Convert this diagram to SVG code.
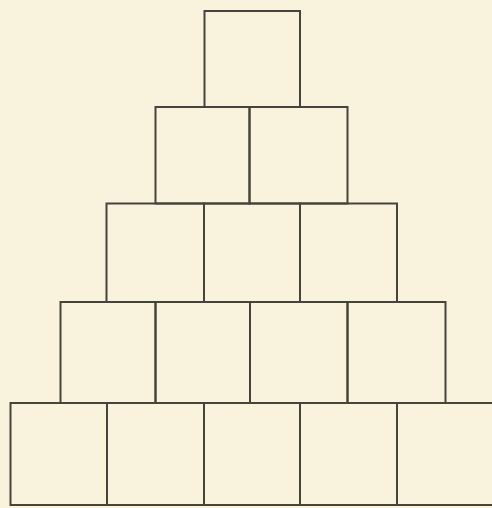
<svg xmlns="http://www.w3.org/2000/svg" width="492" height="508" viewBox="0 0 492 508">
  <style>
    .cell { fill: none; stroke: #45443c; stroke-width: 2; }
  </style>
  <rect x="0" y="0" width="492" height="508" fill="#f9f3de"/>
  <g id="row1">
    <g id="r1c1"><rect class="cell" x="204.5" y="11" width="95.5" height="96"/></g>
  </g>
  <g id="row2">
    <g id="r2c1"><rect class="cell" x="155.5" y="107" width="94" height="96.5"/></g>
    <g id="r2c2"><rect class="cell" x="249.5" y="107" width="98" height="96.5"/></g>
  </g>
  <g id="row3">
    <g id="r3c1"><rect class="cell" x="106.5" y="203.5" width="97.5" height="98.5"/></g>
    <g id="r3c2"><rect class="cell" x="204" y="203.5" width="96" height="98.5"/></g>
    <g id="r3c3"><rect class="cell" x="300" y="203.5" width="97" height="98.5"/></g>
  </g>
  <g id="row4">
    <g id="r4c1"><rect class="cell" x="60.5" y="302" width="95" height="101"/></g>
    <g id="r4c2"><rect class="cell" x="155.5" y="302" width="94.5" height="101"/></g>
    <g id="r4c3"><rect class="cell" x="250" y="302" width="97.5" height="101"/></g>
    <g id="r4c4"><rect class="cell" x="347.5" y="302" width="98" height="101"/></g>
  </g>
  <g id="row5">
    <g id="r5c1"><rect class="cell" x="10.5" y="403" width="96.5" height="102"/></g>
    <g id="r5c2"><rect class="cell" x="107" y="403" width="97" height="102"/></g>
    <g id="r5c3"><rect class="cell" x="204" y="403" width="96" height="102"/></g>
    <g id="r5c4"><rect class="cell" x="300" y="403" width="97" height="102"/></g>
    <g id="r5c5"><rect class="cell" x="397" y="403" width="97" height="102"/></g>
  </g>
  <g id="connectors"></g>
</svg>
